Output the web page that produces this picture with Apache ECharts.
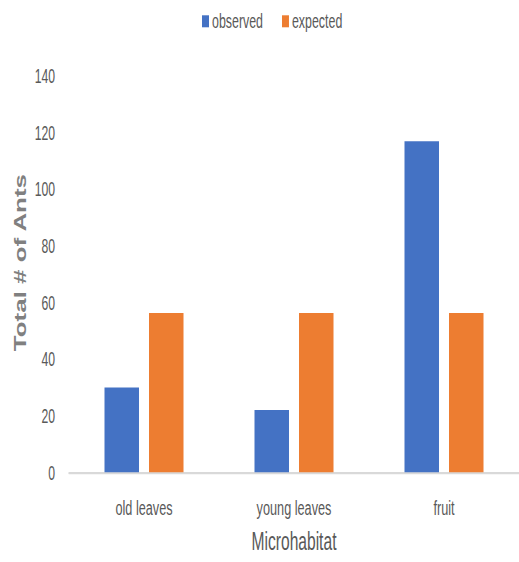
<!DOCTYPE html>
<html>
<head>
<meta charset="utf-8">
<script src="https://cdn.jsdelivr.net/npm/echarts@6/dist/echarts.min.js"></script>
<style>
  html, body { margin: 0; padding: 0; background: #fff; }
  #frame { width: 519px; height: 562px; overflow: hidden; }
  /* The chart is laid out at a shorter height and stretched vertically,
     which gives the tall, condensed lettering of the original figure. */
  #chart { width: 519px; height: 351px; transform: scaleY(1.6011); transform-origin: 0 0; }
</style>
</head>
<body>
<div id="frame"><div id="chart"></div></div>
<script>
// Ant counts per microhabitat
const categories = ['old leaves', 'young leaves', 'fruit'];
const observed = [30, 22, 117];
const expected = [56.33, 56.33, 56.33];
const yTicks = { min: 0, max: 140, interval: 20 };

const FONT = "'Liberation Sans', Arial, sans-serif";
const GREY = '#595959';

const chart = echarts.init(document.getElementById('chart'), null, { renderer: 'svg' });
chart.setOption({
  backgroundColor: '#ffffff',
  animation: false,
  legend: {
    top: 7.3,
    left: 202,
    padding: 0,
    itemWidth: 7,
    itemHeight: 7.5,
    itemGap: 19,
    icon: 'rect',
    textStyle: { fontFamily: FONT, fontSize: 12.4, color: GREY, padding: [0, 0, 0, -2] },
    data: ['observed', 'expected']
  },
  grid: { left: 69, top: 47.5, width: 461, height: 248.5 },
  xAxis: {
    type: 'category',
    data: categories,
    axisTick: { show: false },
    axisLine: { lineStyle: { color: '#d9d9d9', width: 1.3 } },
    axisLabel: { fontFamily: FONT, fontSize: 12.7, color: GREY, margin: 16 },
    name: 'Microhabitat',
    nameLocation: 'middle',
    nameGap: 35,
    nameTextStyle: { fontFamily: FONT, fontSize: 15.6, color: GREY }
  },
  yAxis: {
    type: 'value',
    min: yTicks.min,
    max: yTicks.max,
    interval: yTicks.interval,
    splitLine: { show: false },
    axisLine: { show: false },
    axisTick: { show: false },
    axisLabel: { fontFamily: FONT, fontSize: 12.2, color: GREY, margin: 14 }
  },
  graphic: [{
    type: 'text',
    x: 20,
    y: 164,
    rotation: Math.PI / 2,
    style: {
      text: 'Total # of Ants',
      font: "bold 16.2px 'Liberation Sans', Arial, sans-serif",
      fill: '#808080',
      textAlign: 'center',
      textVerticalAlign: 'middle'
    }
  }],
  series: [
    {
      name: 'observed',
      type: 'bar',
      data: observed,
      barWidth: 34.5,
      barGap: '29%',
      itemStyle: { color: '#4472C4' }
    },
    {
      name: 'expected',
      type: 'bar',
      data: expected,
      barWidth: 34.5,
      itemStyle: { color: '#ED7D31' }
    }
  ]
});
</script>
</body>
</html>
